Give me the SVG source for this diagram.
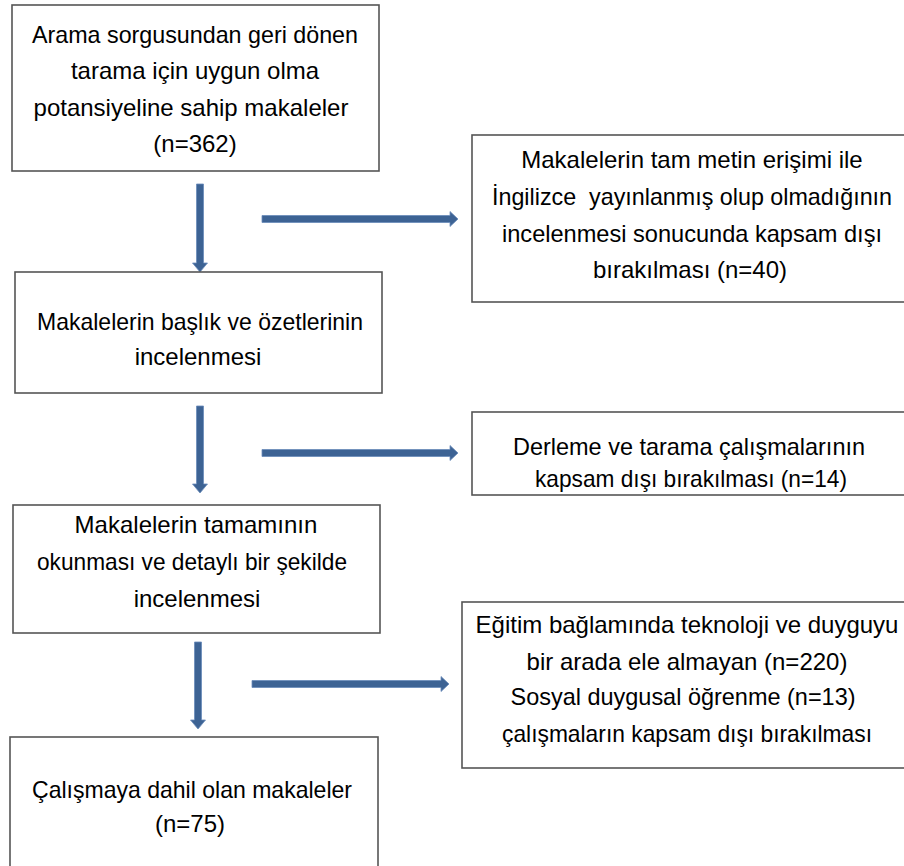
<svg xmlns="http://www.w3.org/2000/svg" width="904" height="866" viewBox="0 0 904 866">
<style>
.box{fill:#ffffff;stroke:#555555;stroke-width:1.6}
.t{font-family:"Liberation Sans",Arial,sans-serif;font-size:24px;fill:#000000;text-anchor:middle}
.arr{fill:#3D6394;stroke:#6A8BBA;stroke-width:0.8}
</style>
<rect width="904" height="866" fill="#ffffff"/>
<g id="connectors">
<path class="arr" d="M196.5,184 H203.5 V263 H207.5 L200,272 L192.5,263 H196.5 Z"/>
<path class="arr" d="M262,215.5 V222.5 H450 V226.5 L458,219 L450,211.5 V215.5 Z"/>
<path class="arr" d="M196.5,406 H203.5 V484 H207.5 L200,493 L192.5,484 H196.5 Z"/>
<path class="arr" d="M262,449.5 V456.5 H450 V460.5 L458,453 L450,445.5 V449.5 Z"/>
<path class="arr" d="M194.5,642 H201.5 V720 H205.5 L198,729 L190.5,720 H194.5 Z"/>
<path class="arr" d="M252,680.5 V687.5 H441 V691.5 L449,684 L441,676.5 V680.5 Z"/>
</g>
<g id="n1">
<rect class="box" x="12" y="5" width="367" height="166"/>
<text class="t" x="195" y="43" textLength="326" lengthAdjust="spacingAndGlyphs">Arama sorgusundan geri dönen</text>
<text class="t" x="195" y="79">tarama için uygun olma</text>
<text class="t" x="191" y="116">potansiyeline sahip makaleler</text>
<text class="t" x="195" y="152">(n=362)</text>
</g>
<g id="r1">
<rect class="box" x="472" y="135" width="440" height="167"/>
<text class="t" x="692" y="168">Makalelerin tam metin erişimi ile</text>
<text class="t" x="692" y="205" xml:space="preserve" textLength="400" lengthAdjust="spacingAndGlyphs">İngilizce  yayınlanmış olup olmadığının</text>
<text class="t" x="692" y="242" textLength="380" lengthAdjust="spacingAndGlyphs">incelenmesi sonucunda kapsam dışı</text>
<text class="t" x="690" y="278">bırakılması (n=40)</text>
</g>
<g id="n2">
<rect class="box" x="15" y="272" width="367" height="121"/>
<text class="t" x="200" y="330" textLength="326" lengthAdjust="spacingAndGlyphs">Makalelerin başlık ve özetlerinin</text>
<text class="t" x="198" y="365">incelenmesi</text>
</g>
<g id="r2">
<rect class="box" x="472" y="412" width="440" height="83"/>
<text class="t" x="689" y="455" textLength="352" lengthAdjust="spacingAndGlyphs">Derleme ve tarama çalışmalarının</text>
<text class="t" x="691" y="487" textLength="312" lengthAdjust="spacingAndGlyphs">kapsam dışı bırakılması (n=14)</text>
</g>
<g id="n3">
<rect class="box" x="13" y="505" width="367" height="128"/>
<text class="t" x="196" y="533">Makalelerin tamamının</text>
<text class="t" x="192" y="570" textLength="310" lengthAdjust="spacingAndGlyphs">okunması ve detaylı bir şekilde</text>
<text class="t" x="197" y="607">incelenmesi</text>
</g>
<g id="r3">
<rect class="box" x="462" y="602" width="450" height="166"/>
<text class="t" x="687" y="633">Eğitim bağlamında teknoloji ve duyguyu</text>
<text class="t" x="687" y="670">bir arada ele almayan (n=220)</text>
<text class="t" x="683" y="705" textLength="345" lengthAdjust="spacingAndGlyphs">Sosyal duygusal öğrenme (n=13)</text>
<text class="t" x="687" y="742" textLength="370" lengthAdjust="spacingAndGlyphs">çalışmaların kapsam dışı bırakılması</text>
</g>
<g id="n4">
<rect class="box" x="10" y="737" width="368" height="140"/>
<text class="t" x="192" y="798" textLength="320" lengthAdjust="spacingAndGlyphs">Çalışmaya dahil olan makaleler</text>
<text class="t" x="190" y="832">(n=75)</text>
</g>
</svg>
